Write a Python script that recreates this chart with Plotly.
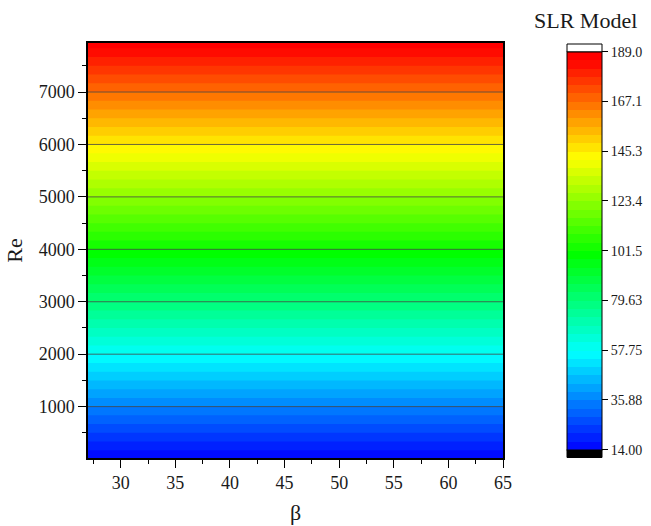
import plotly.graph_objects as go

# ---- data ----
beta = [27, 30, 35, 40, 45, 50, 55, 60, 65]
Re = [20, 1000, 2000, 3000, 4000, 5000, 6000, 7000, 7935]
slr = [14.44, 35.88, 57.75, 79.63, 101.5, 123.4, 145.3, 167.1, 187.6]  # SLR model value vs Re (independent of beta)
z = [[v for _ in beta] for v in slr]

cb_vals = [14.00, 35.88, 57.75, 79.63, 101.5, 123.4, 145.3, 167.1, 189.0]
cb_text = ["14.00", "35.88", "57.75", "79.63", "101.5", "123.4", "145.3", "167.1", "189.0"]
y_ticks = [1000, 2000, 3000, 4000, 5000, 6000, 7000]
x_ticks = [30, 35, 40, 45, 50, 55, 60, 65]

zmin, zmax = 14.0, 189.0
nlev = 48

# rainbow palette; band i of N coloured at i/(N-1) of the palette
k = nlev / (nlev - 1)
base_stops = [(0.0, "rgb(0,0,255)"), (0.25, "rgb(0,255,255)"), (0.5, "rgb(0,255,0)"),
              (0.75, "rgb(255,255,0)"), (1.0, "rgb(255,0,0)")]
colorscale = [[p / k, c] for p, c in base_stops] + [[1.0, "rgb(255,0,0)"]]

W, H = 651, 526
ml, mr, mt, mb = 88, 148, 43, 68
pw = W - ml - mr
ph = H - mt - mb

def px_x(x):
    return (x - ml) / pw

def px_y(y):
    return (H - mb - y) / ph

FONT = "Liberation Serif"
TXT = "#1a1a1a"
cb_top, cb_bot = 52, 449.5
fig = go.Figure()
fig.add_trace(go.Contour(
    x=beta, y=Re, z=z,
    colorscale=colorscale, zmin=zmin, zmax=zmax,
    contours=dict(start=zmin, end=zmax, size=(zmax - zmin) / nlev, coloring="fill", showlines=False),
    line=dict(width=0),
    colorbar=dict(
        x=px_x(567), xanchor="left", xpad=0, ypad=0,
        y=px_y((cb_top + cb_bot) / 2), yanchor="middle",
        len=cb_bot - cb_top, lenmode="pixels",
        thickness=35, thicknessmode="pixels",
        outlinewidth=1, outlinecolor="black",
        tickvals=cb_vals, ticktext=cb_text,
        ticks="outside", ticklen=6, tickcolor="black",
        tickfont=dict(family=FONT, size=14, color=TXT),
    ),
))

shapes = []
for yt in y_ticks:
    shapes.append(dict(type="line", xref="x", yref="y", x0=27, x1=65, y0=yt, y1=yt,
                       line=dict(color="rgba(70,70,70,0.8)", width=1), layer="above"))
# colorbar end caps
shapes.append(dict(type="rect", xref="paper", yref="paper",
                   x0=px_x(567), x1=px_x(602), y0=px_y(cb_top), y1=px_y(44),
                   fillcolor="white", line=dict(color="black", width=1)))
shapes.append(dict(type="rect", xref="paper", yref="paper",
                   x0=px_x(567), x1=px_x(602), y0=px_y(457.5), y1=px_y(cb_bot),
                   fillcolor="black", line=dict(color="black", width=1)))

fig.update_layout(
    width=W, height=H,
    margin=dict(l=ml, r=mr, t=mt, b=mb, autoexpand=False),
    paper_bgcolor="white", plot_bgcolor="white",
    font=dict(family=FONT, color=TXT),
    shapes=shapes,
    xaxis=dict(
        range=[27, 65], tickvals=x_ticks, ticks="outside", ticklen=8, tickcolor="black",
        showline=True, linecolor="black", linewidth=1.5, mirror=True, showgrid=False,
        zeroline=False, tickfont=dict(family=FONT, size=18, color=TXT), automargin=False,
        minor=dict(tickvals=[27.5, 32.5, 37.5, 42.5, 47.5, 52.5, 57.5, 62.5], ticks="outside", ticklen=4.5, tickcolor="black", showgrid=False),
        title=dict(text="β", font=dict(family=FONT, size=22), standoff=12),
    ),
    yaxis=dict(
        range=[20, 7935], tickvals=y_ticks, ticks="outside", ticklen=8, tickcolor="black",
        showline=True, linecolor="black", linewidth=1.5, mirror=True, showgrid=False,
        zeroline=False, tickfont=dict(family=FONT, size=18, color=TXT), automargin=False,
        minor=dict(tickvals=[500, 1500, 2500, 3500, 4500, 5500, 6500, 7500], ticks="outside", ticklen=4.5, tickcolor="black", showgrid=False),
        title=dict(text="Re", font=dict(family=FONT, size=22), standoff=10),
    ),
    annotations=[dict(text="SLR Model", xref="paper", yref="paper", x=px_x(585), y=px_y(20),
                      xanchor="center", yanchor="middle", showarrow=False,
                      font=dict(family=FONT, size=22, color=TXT))],
)

fig.write_html("out.html")
